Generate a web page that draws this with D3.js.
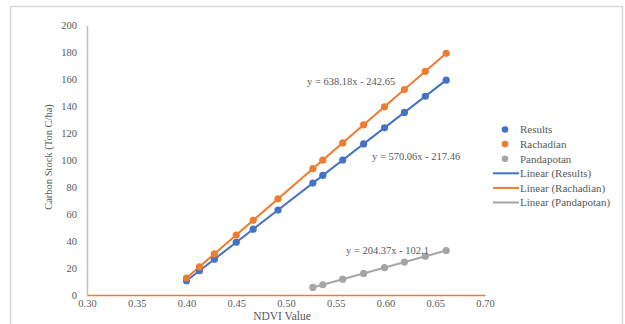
<!DOCTYPE html>
<html>
<head>
<meta charset="utf-8">
<script src="https://cdn.jsdelivr.net/npm/d3@7"></script>
<style>
  html, body { margin: 0; padding: 0; background: #ffffff; }
  svg { display: block; }
  text { font-family: "Liberation Serif", "Times New Roman", serif; fill: #595959; }
</style>
</head>
<body>
<svg id="chart" width="625" height="324"></svg>
<script>
// ---- data ----
const ndviResults = [0.400, 0.413, 0.428, 0.450, 0.467, 0.492, 0.527, 0.537, 0.557, 0.578, 0.599, 0.619, 0.640, 0.661];
const carbonResults = [10.6, 18.0, 26.5, 39.1, 48.8, 63.0, 83.0, 88.7, 100.1, 112.0, 124.0, 135.4, 147.4, 159.3];
const ndviRachadian = [0.400, 0.413, 0.428, 0.450, 0.467, 0.492, 0.527, 0.537, 0.557, 0.578, 0.599, 0.619, 0.640, 0.661];
const carbonRachadian = [12.6, 20.9, 30.5, 44.5, 55.4, 71.3, 93.7, 100.0, 112.8, 126.2, 139.6, 152.4, 165.8, 179.2];
const ndviPandapotan = [0.527, 0.537, 0.557, 0.578, 0.599, 0.619, 0.640, 0.661];
const carbonPandapotan = [5.6, 7.6, 11.7, 16.0, 20.3, 24.4, 28.7, 33.0];
const seriesNames = ["Results", "Rachadian", "Pandapotan"];
const slopes = [570.06, 638.18, 204.37];
const intercepts = [-217.46, -242.65, -102.1];
const equationLabels = ["y = 570.06x - 217.46", "y = 638.18x - 242.65", "y = 204.37x - 102.1"];
const xTickValues = [0.30, 0.35, 0.40, 0.45, 0.50, 0.55, 0.60, 0.65, 0.70];
const yTickValues = [0, 20, 40, 60, 80, 100, 120, 140, 160, 180, 200];
const xTitle = "NDVI Value";
const yTitle = "Carbon Stock (Ton C/ha)";

// ---- styling / layout ----
const colors = ["#4472C4", "#ED7D31", "#A5A5A5"];
const svg = d3.select("#chart");

svg.append("rect")
  .attr("x", 10.5).attr("y", 6.5).attr("width", 612).attr("height", 340)
  .attr("fill", "#fff").attr("stroke", "#d9d9d9").attr("stroke-width", 1.5);

const x = d3.scaleLinear().domain([0.30, 0.70]).range([87, 485]);
const y = d3.scaleLinear().domain([0, 200]).range([295, 25.3]);

// y axis
const yAxis = svg.append("g").attr("transform", `translate(${x(0.30)},0)`)
  .call(d3.axisLeft(y).tickValues(yTickValues).tickSize(0).tickPadding(10).tickFormat(d3.format("d")));
yAxis.select(".domain").attr("stroke", "#bfbfbf").attr("stroke-width", 1.5);
yAxis.selectAll("text").style("font-size", "10.5px").style("font-family", '"Liberation Serif", serif').attr("fill", "#595959");

// x axis
const xAxis = svg.append("g").attr("transform", `translate(0,${y(0)})`)
  .call(d3.axisBottom(x).tickValues(xTickValues).tickSize(0).tickPadding(5).tickFormat(d3.format(".2f")));
xAxis.select(".domain").attr("stroke", "#ED7D31").attr("stroke-width", 1.5);
xAxis.selectAll("text").style("font-size", "10.5px").style("font-family", '"Liberation Serif", serif').attr("fill", "#595959");

// titles
svg.append("text").attr("x", 282).attr("y", 320).attr("text-anchor", "middle")
  .style("font-size", "11.5px").text(xTitle);
svg.append("text").attr("transform", `translate(52,157) rotate(-90)`).attr("text-anchor", "middle")
  .style("font-size", "10.5px").text(yTitle);

const xs = [ndviResults, ndviRachadian, ndviPandapotan];
const ys = [carbonResults, carbonRachadian, carbonPandapotan];

// trendlines
[0, 1, 2].forEach(i => {
  const ext = d3.extent(xs[i]);
  const pts = ext.map(v => [v, slopes[i] * v + intercepts[i]]);
  svg.append("path")
    .attr("d", d3.line().x(d => x(d[0])).y(d => y(d[1]))(pts))
    .attr("stroke", colors[i]).attr("stroke-width", 2).attr("fill", "none");
});

// markers
[0, 1, 2].forEach(i => {
  svg.append("g").selectAll("circle")
    .data(xs[i].map((v, k) => [v, ys[i][k]]))
    .join("circle")
    .attr("cx", d => x(d[0])).attr("cy", d => y(d[1])).attr("r", 3.6)
    .attr("fill", colors[i]);
});

// equation labels
const eqPos = [[372, 160], [307, 85], [346, 254]];
[0, 1, 2].forEach(i => {
  svg.append("text").attr("x", eqPos[i][0]).attr("y", eqPos[i][1])
    .style("font-size", "10.5px").text(equationLabels[i]);
});

// legend
const legendItems = seriesNames.map((n, i) => ({type: "marker", name: n, color: colors[i]}))
  .concat(seriesNames.map((n, i) => ({type: "line", name: `Linear (${n})`, color: colors[i]})));
const lg = svg.append("g");
legendItems.forEach((it, k) => {
  const cy = 129.5 + k * 14.6;
  if (it.type === "marker") {
    lg.append("circle").attr("cx", 505).attr("cy", cy).attr("r", 3.3).attr("fill", it.color);
  } else {
    lg.append("line").attr("x1", 493).attr("x2", 519).attr("y1", cy).attr("y2", cy)
      .attr("stroke", it.color).attr("stroke-width", 2);
  }
  lg.append("text").attr("x", 520).attr("y", cy + 3.8).style("font-size", "11px").text(it.name);
});
</script>
</body>
</html>
